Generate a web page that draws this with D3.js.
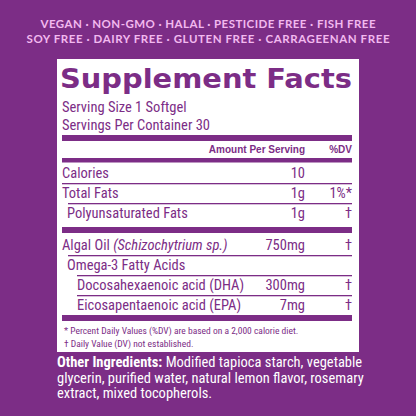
<!DOCTYPE html>
<html><head><meta charset="utf-8">
<script src="https://cdn.jsdelivr.net/npm/d3@7"></script>
<style>body{margin:0;background:#7c2d86}svg{display:block}</style>
</head><body><svg></svg>
<script>
// claims banner
const claims = ["VEGAN · NON-GMO · HALAL · PESTICIDE FREE · FISH FREE",
  "SOY FREE · DAIRY FREE · GLUTEN FREE · CARRAGEENAN FREE"];
const serving = ["Serving Size 1 Softgel", "Servings Per Container 30"];
// nutrient rows: label, amount, %DV, indent level, divider after
const labels = ["Calories", "Total Fats", "Polyunsaturated Fats", "Algal Oil", "Omega-3 Fatty Acids",
  "Docosahexaenoic acid (DHA)", "Eicosapentaenoic acid (EPA)"];
const amounts = ["10", "1g", "1g", "750mg", "", "300mg", "7mg"];
const dvs = ["", "1%*", "†", "†", "", "†", "†"];
const indents = [0, 0, 1, 0, 1, 2, 2];
const dividers = ["thin", "thin", "thick", "thin", "thin", "thin", "thick"];
const footnotes = ["* Percent Daily Values (%DV) are based on a 2,000 calorie diet.",
  "† Daily Value (DV) not established."];
const ingredients = ["Modified tapioca starch, vegetable",
  "glycerin, purified water, natural lemon flavor, rosemary",
  "extract, mixed tocopherols."];

const W = 416, H = 416, purple = "#7c2d86", pink = "#f2b9ef";
const cond = "'Liberation Sans Narrow','Roboto Condensed',Roboto,sans-serif";
const svg = d3.select("svg").attr("width", W).attr("height", H);
svg.append("rect").attr("width", W).attr("height", H).attr("fill", purple);

svg.selectAll(".claim").data(claims).join("text")
  .attr("x", W / 2).attr("y", (d, i) => 28 + i * 15)
  .attr("text-anchor", "middle").attr("fill", pink)
  .attr("font-family", "Lato,sans-serif").attr("font-weight", 700).attr("font-size", 11.5)
  .attr("textLength", (d, i) => i ? 363 : 335).text(d => d);

const box = { x: 57, y: 59, w: 302, h: 293 };
svg.append("rect").attr("x", box.x).attr("y", box.y).attr("width", box.w).attr("height", box.h).attr("fill", "#fff");
const left = 62, right = 352, valX = 305;

svg.append("text").attr("x", 60).attr("y", 88).attr("fill", purple)
  .attr("font-family", "'DejaVu Sans',sans-serif").attr("font-weight", 700).attr("font-size", 27)
  .attr("textLength", 292).attr("lengthAdjust", "spacingAndGlyphs").text("Supplement Facts");

svg.selectAll(".serv").data(serving).join("text")
  .attr("x", left).attr("y", (d, i) => 112 + i * 18).attr("fill", purple)
  .attr("font-family", cond).attr("font-size", 14.5).text(d => d);

function bar(y, h, x0) {
  svg.append("rect").attr("x", x0 || left).attr("y", y).attr("width", right - (x0 || left)).attr("height", h).attr("fill", purple);
}
bar(135, 6);
svg.append("text").attr("x", valX).attr("y", 153).attr("text-anchor", "end").attr("fill", purple)
  .attr("font-family", "Arial,sans-serif").attr("font-weight", 700).attr("font-size", 10).text("Amount Per Serving");
svg.append("text").attr("x", right).attr("y", 153).attr("text-anchor", "end").attr("fill", purple)
  .attr("font-family", "Arial,sans-serif").attr("font-weight", 700).attr("font-size", 10).text("%DV");
bar(158, 4.5);

// row layout: 20px per row, extra 12px after a thick bar
let y = 158;
const rows = labels.map((l, i) => {
  y += 20 + (i > 0 && dividers[i - 1] === "thick" ? 12 : 0);
  return { l, a: amounts[i], dv: dvs[i], ind: indents[i], div: dividers[i], base: y };
});
const indX = d3.scaleOrdinal().domain([0, 1, 2]).range([left, 67, 77]);
rows.forEach((r, i) => {
  const g = svg.append("g").attr("fill", purple).attr("font-family", cond).attr("font-size", 14.5);
  const t = g.append("text").attr("x", indX(r.ind)).attr("y", r.base);
  if (r.l === "Algal Oil") {
    t.append("tspan").text("Algal Oil ");
    t.append("tspan").attr("font-style", "italic").text("(Schizochytrium sp.)");
  } else t.text(r.l);
  g.append("text").attr("x", valX).attr("y", r.base).attr("text-anchor", "end").text(r.a);
  g.append("text").attr("x", right).attr("y", r.base).attr("text-anchor", "end").text(r.dv);
  const x0 = r.ind === 2 || indents[i + 1] === 2 ? 77 : (indents[i + 1] === 1 ? 68 : left);
  if (r.div === "thick") bar(r.base + (i === labels.length - 1 ? 5 : 9), 6);
  else bar(r.base + 5, 1.3, x0);
});

svg.selectAll(".fn").data(footnotes).join("text")
  .attr("x", 64).attr("y", (d, i) => 334 + i * 13).attr("fill", purple)
  .attr("font-family", cond).attr("font-size", 9.5).text(d => d);

const ing = svg.selectAll(".ing").data(ingredients).join("text")
  .attr("x", 57).attr("y", (d, i) => 367 + i * 15.5).attr("fill", "#fff")
  .attr("font-family", cond).attr("font-size", 14.5);
ing.filter((d, i) => i === 0).append("tspan").attr("font-weight", 700).text("Other Ingredients: ");
ing.append("tspan").text(d => d);
</script></body></html>
